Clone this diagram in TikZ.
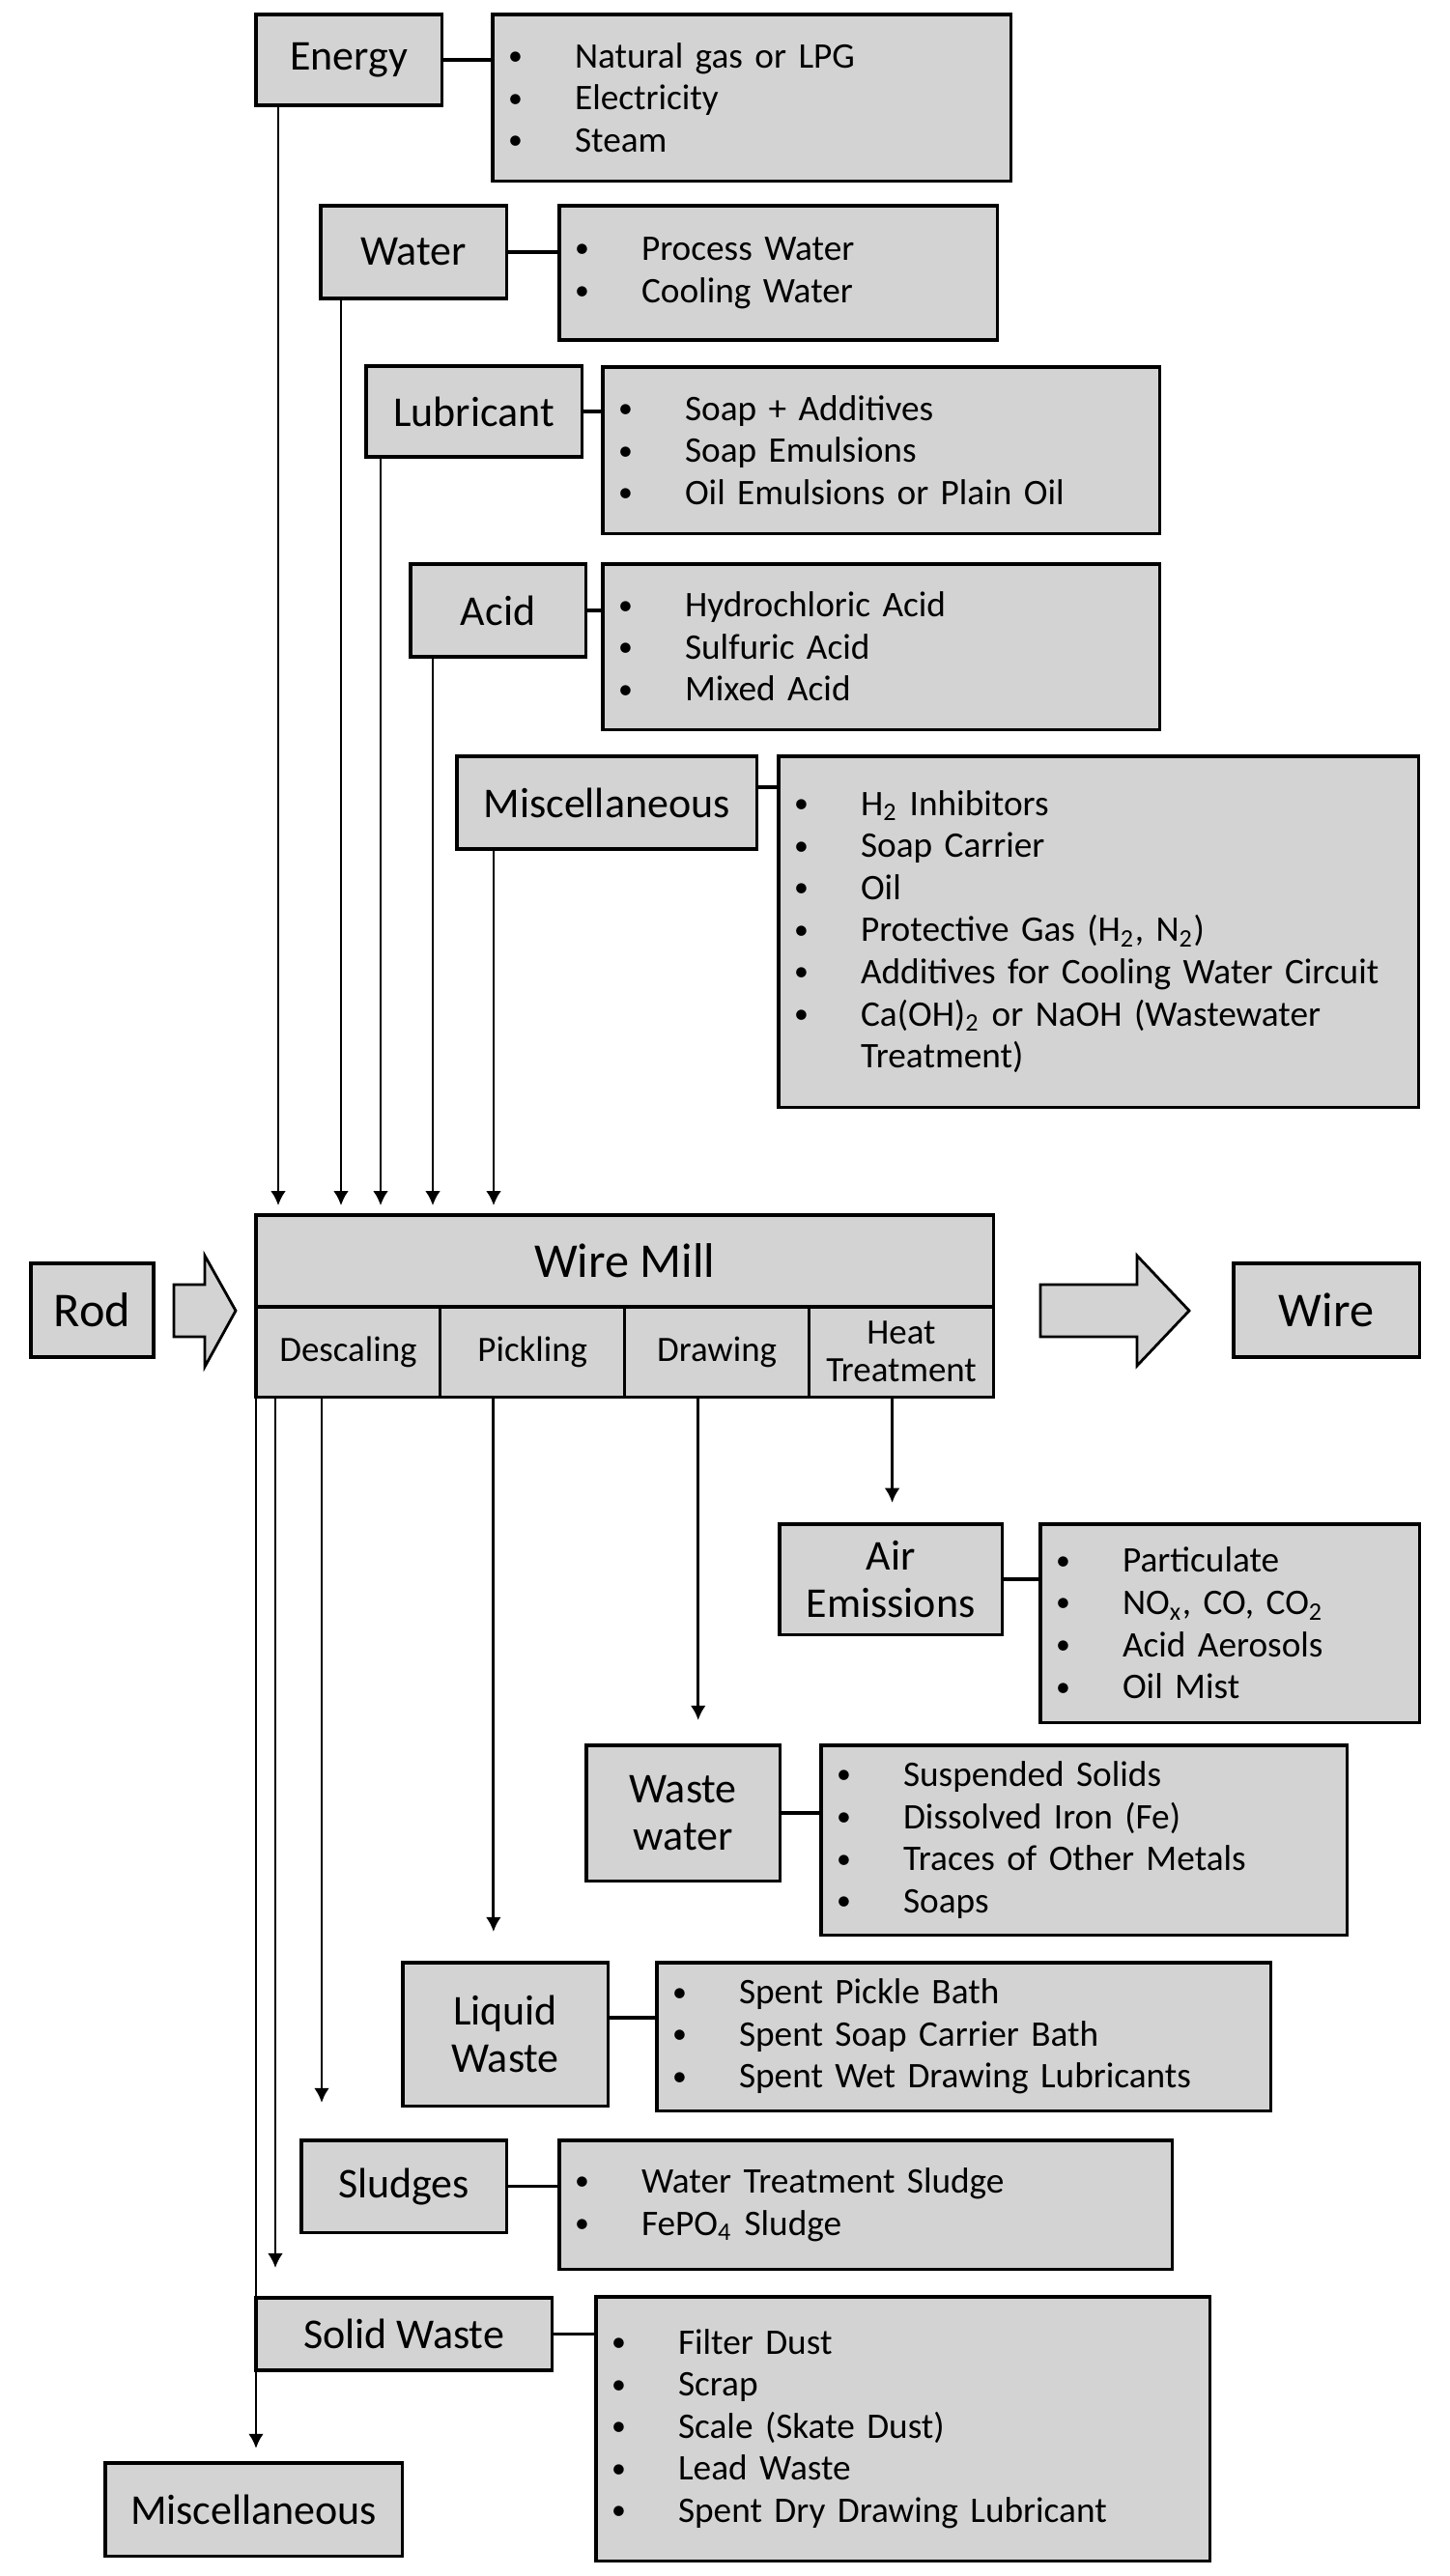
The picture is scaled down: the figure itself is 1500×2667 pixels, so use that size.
\documentclass[tikz,border=0pt]{standalone}
\usepackage{fontspec}
\setmainfont{Carlito}
\usetikzlibrary{arrows.meta}
\definecolor{boxgray}{RGB}{211,211,211}
\newcommand\itm{\makebox[0.69cm][l]{\raisebox{0.07em}{\scalebox{0.8}{\textbullet}}}}

\begin{document}
\begin{tikzpicture}[x=0.01cm,y=-0.01cm,
  box/.style={draw,line width=0.9pt,fill=boxgray,inner sep=0pt,outer sep=0pt,anchor=north west,
    align=center,font=\fontsize{12.5}{14}\selectfont},
  list/.style={box,inner xsep=0.16cm,align=left,font=\fontsize{10.6}{12.4}\selectfont},
  big/.style={box,font=\fontsize{14.3}{16}\selectfont},
  cell/.style={box,font=\fontsize{10.5}{11.1}\selectfont,minimum width=1.9075cm,minimum height=0.93cm},
  link/.style={line width=0.9pt},
  flow/.style={line width=0.8pt,-{Latex[length=4.3pt,width=4.5pt]}},
  fat/.style={draw,line width=0.8pt,fill=boxgray}]
\useasboundingbox (0,0) rectangle (1500,2667);
% inputs and what they contain
\node[box,minimum width=1.92cm,minimum height=0.94cm] (energy) at (265,15) {Energy};
\node[list,text width=5.04cm,minimum height=1.72cm] (energyl) at (510,15)
  {\itm Natural gas or LPG\\\itm Electricity\\\itm Steam};
\node[box,minimum width=1.92cm,minimum height=0.96cm] (water) at (332,213) {Water};
\node[list,text width=4.21cm,minimum height=1.39cm] (waterl) at (579,213)
  {\itm Process Water\\\itm Cooling Water};
\node[box,minimum width=2.23cm,minimum height=0.94cm] (lube) at (379,379) {Lubricant};
\node[list,text width=5.44cm,minimum height=1.72cm] (lubel) at (624,380)
  {\itm Soap + Additives\\\itm Soap Emulsions\\\itm Oil Emulsions or Plain Oil};
\node[box,minimum width=1.81cm,minimum height=0.96cm] (acid) at (425,584) {Acid};
\node[list,text width=5.44cm,minimum height=1.71cm] (acidl) at (624,584)
  {\itm Hydrochloric Acid\\\itm Sulfuric Acid\\\itm Mixed Acid};
\node[box,minimum width=3.10cm,minimum height=0.96cm] (misc) at (473,783) {Miscellaneous};
\node[list,text width=6.30cm,minimum height=3.63cm] (miscl) at (806,783)
  {\itm H\textsubscript{2} Inhibitors\\\itm Soap Carrier\\\itm Oil\\
   \itm Protective Gas (H\textsubscript{2}, N\textsubscript{2})\\
   \itm Additives for Cooling Water Circuit\\
   \itm Ca(OH)\textsubscript{2} or NaOH (Wastewater\\\hspace*{0.69cm}Treatment)};
% the mill
\node[big,minimum width=7.63cm,minimum height=0.95cm] (mill) at (265,1258) {Wire Mill};
\node[cell] (desc) at (mill.south west) {Descaling};
\node[cell] (pick) at (desc.north east) {Pickling};
\node[cell] (drawing) at (pick.north east) {Drawing};
\node[cell] (heat) at (drawing.north east) {Heat\\Treatment};
\node[big,minimum width=1.27cm,minimum height=0.97cm] (rod) at (32,1308) {Rod};
\node[big,minimum width=1.92cm,minimum height=0.97cm] (wire) at (1277,1308) {Wire};
\draw[fat] (180,1330) -- (212,1330) -- (212,1300) -- (244,1357) -- (212,1415)
  -- (212,1384) -- (180,1384) -- cycle;
\draw[fat] (1077,1330) -- (1177,1330) -- (1177,1300) -- (1231,1357) -- (1177,1414)
  -- (1177,1384) -- (1077,1384) -- cycle;
% outputs and what they contain
\node[box,minimum width=2.30cm,minimum height=1.14cm] (air) at (807,1578) {Air\\Emissions};
\node[list,text width=3.60cm,minimum height=2.05cm] (airl) at (1077,1578)
  {\itm Particulate\\\itm NO\textsubscript{x}, CO, CO\textsubscript{2}\\\itm Acid Aerosols\\\itm Oil Mist};
\node[box,minimum width=2.00cm,minimum height=1.40cm] (waste) at (607,1807) {Waste\\water};
\node[list,text width=5.12cm,minimum height=1.96cm] (wastel) at (850,1807)
  {\itm Suspended Solids\\\itm Dissolved Iron (Fe)\\\itm Traces of Other Metals\\\itm Soaps};
\node[box,minimum width=2.12cm,minimum height=1.48cm] (liquid) at (417,2032) {Liquid\\Waste};
\node[list,text width=6.03cm,minimum height=1.53cm] (liquidl) at (680,2032)
  {\itm Spent Pickle Bath\\\itm Spent Soap Carrier Bath\\\itm Spent Wet Drawing Lubricants};
\node[box,minimum width=2.12cm,minimum height=0.95cm] (sludge) at (312,2216) {Sludges};
\node[list,text width=6.02cm,minimum height=1.33cm] (sludgel) at (579,2216)
  {\itm Water Treatment Sludge\\\itm FePO\textsubscript{4} Sludge};
\node[box,minimum width=3.06cm,minimum height=0.75cm] (solid) at (265,2379) {Solid Waste};
\node[list,text width=6.03cm,minimum height=2.73cm] (solidl) at (617,2378)
  {\itm Filter Dust\\\itm Scrap\\\itm Scale (Skate Dust)\\\itm Lead Waste\\\itm Spent Dry Drawing Lubricant};
\node[box,minimum width=3.07cm,minimum height=0.96cm] (miscout) at (109,2550) {Miscellaneous};
% short links to the lists
\foreach \a/\b in {energy/energyl,water/waterl,lube/lubel,acid/acidl,air/airl,waste/wastel,sludge/sludgel,solid/solidl}
  \draw[link] (\a.east) -- (\a.east -| \b.west);
\draw[link] ([yshift=0.16cm]misc.east) -- ([yshift=0.16cm]misc.east -| miscl.west);
\draw[link] ([yshift=0.17cm]liquid.east) -- ([yshift=0.17cm]liquid.east -| liquidl.west);
% flows into the mill
\foreach \src/\dx in {energy/23,water/21,lube/15,acid/23,misc/38} {
  \coordinate (t) at ([xshift=\dx*0.01cm]\src.south west);
  \draw[flow,shorten >=2.8pt] (t) -- (t |- mill.north);
}
% flows out of the mill
\foreach \src/\dx/\dst/\gap in {heat/86/air/6.3pt,drawing/76/waste/7.4pt,pick/55/liquid/9.1pt,
    desc/68/sludge/11.1pt,desc/20/solid/8.8pt,desc/0/miscout/4.3pt} {
  \coordinate (t) at ([xshift=\dx*0.01cm]\src.south west);
  \draw[flow,shorten >=\gap] (t) -- (t |- \dst.north);
}
\end{tikzpicture}
\end{document}
